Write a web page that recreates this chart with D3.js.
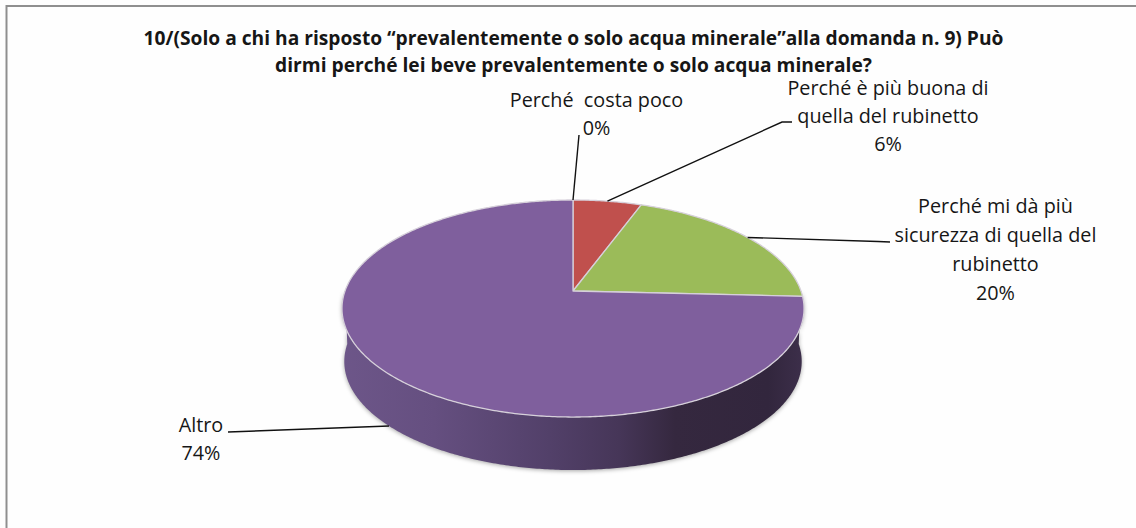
<!DOCTYPE html>
<html>
<head>
<meta charset="utf-8">
<title>Acqua minerale</title>
<script src="https://cdn.jsdelivr.net/npm/d3@7"></script>
<style>
	html, body { margin: 0; padding: 0; background: #fefefe; }
	svg { display: block; }
	text { font-family: "Open Sans", Lato, sans-serif; fill: #161616; }
</style>
</head>
<body>
<div id="chart"></div>
<script>
const categories = [
	['Perché  costa poco'],
	['Perché è più buona di', 'quella del rubinetto'],
	['Perché mi dà più', 'sicurezza di quella del', 'rubinetto'],
	['Altro']
];
const shares = [0, 5.6, 20.2, 74.2];
const sliceColors = ['#c0504d', '#c0504d', '#9bbb59', '#7f5f9d'];
const titleLines = [
	'10/(Solo a chi ha risposto “prevalentemente o solo acqua minerale”alla domanda n. 9) Può',
	'dirmi perché lei beve prevalentemente o solo acqua minerale?'
];

let width = 1136,
	height = 528;

let svg = d3.select('#chart')
	.append('svg')
	.attr('width', width)
	.attr('height', height);

// frame only shows on the top and left
svg.append('path')
	.attr('d', 'M6.5,' + height + 'V6H' + width)
	.attr('fill', 'none')
	.attr('stroke', '#8f8f8f')
	.attr('stroke-width', 2);

titleLines.forEach(function (line, i) {
	svg.append('text')
		.attr('x', 573.5)
		.attr('y', 45 + i * 27)
		.attr('text-anchor', 'middle')
		.style('font-weight', 700)
		.style('font-size', '19.2px')
		.text(line);
});

// pie lies on a tilted plane, so the centre sits above the middle of the ellipse
let cx = 573,
	cy = 291,
	rx = 228,
	ry = 105.7,
	tilt = 0.1613,
	depth = 53;

function project(angle, lower) {
	let u = Math.sin(angle),
		v = Math.cos(angle),
		w = 1 + tilt * v;
	let shrink = lower ? 0.99 : 1;
	return [
		cx + shrink * rx * u / w,
		cy - ry * v / w + (lower ? depth : 0)
	];
}

function arcPoints(a0, a1, lower) {
	let n = Math.max(2, Math.ceil(Math.abs(a1 - a0) / 0.01));
	return d3.range(n + 1).map(i => project(a0 + (a1 - a0) * i / n, lower));
}

let pie = d3.pie().sort(null).value(d => d);
let slices = pie(shares);

// side wall
let grad = svg.append('defs').append('linearGradient')
	.attr('id', 'wall')
	.attr('gradientUnits', 'userSpaceOnUse')
	.attr('x1', cx - 232)
	.attr('x2', cx + 232)
	.attr('y1', 0)
	.attr('y2', 0);

[[0, '#6d5689'], [0.2, '#654f80'], [0.45, '#524069'], [0.6, '#463658'], [0.72, '#35283f'], [0.92, '#32263d'], [1, '#3d2f4b']]
	.forEach(function (s) {
		grad.append('stop').attr('offset', s[0]).attr('stop-color', s[1]);
	});

let wallPoints = arcPoints(Math.PI / 2, Math.PI * 1.5, false)
	.concat(arcPoints(Math.PI * 1.5, Math.PI / 2, true));

svg.append('path')
	.attr('d', d3.line()(wallPoints) + 'Z')
	.attr('fill', 'url(#wall)')
	.style('filter', 'drop-shadow(0 1px 2px rgba(0,0,0,0.35))');

// top face
svg.selectAll('path.slice')
	.data(slices)
	.enter()
	.append('path')
	.attr('class', 'slice')
	.attr('d', d => d3.line()([[cx, cy]].concat(arcPoints(d.startAngle, d.endAngle, false))) + 'Z')
	.attr('fill', (d, i) => sliceColors[i])
	.attr('stroke', '#d6d0da')
	.attr('stroke-width', 1.3)
	.attr('stroke-linejoin', 'round');

// labels, one entry per slice
let labelBox = [
	{ x: 596.5, y: 107, step: 28, end: [[579, 135]] },
	{ x: 888, y: 95, step: 28, end: [[782, 122], [792, 122]] },
	{ x: 995.5, y: 213, step: 29, end: [[878, 241.5], [890, 242]] },
	{ x: 201, y: 432, step: 28, end: [[228, 432]] }
];

slices.forEach(function (d, i) {
	let box = labelBox[i];
	let mid = (d.startAngle + d.endAngle) / 2;
	let start = project(mid, mid > Math.PI / 2 && mid < Math.PI * 1.5);

	svg.append('path')
		.attr('d', d3.line()([start].concat(box.end)))
		.attr('fill', 'none')
		.attr('stroke', '#111')
		.attr('stroke-width', 1.4);

	let lines = categories[i].concat(Math.round(shares[i]) + '%');
	lines.forEach(function (line, k) {
		svg.append('text')
			.attr('x', box.x)
			.attr('y', box.y + k * box.step)
			.attr('text-anchor', 'middle')
			.style('font-size', '19.8px')
			.style('white-space', 'pre')
			.text(line);
	});
});
</script>
</body>
</html>
